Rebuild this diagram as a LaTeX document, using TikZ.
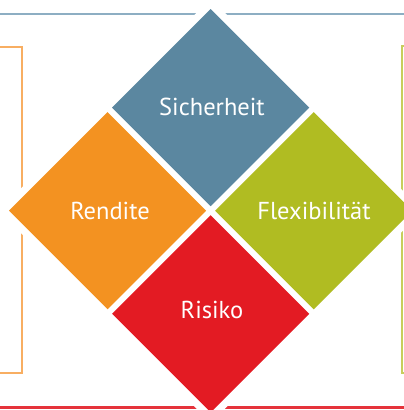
\documentclass[tikz,border=0pt]{standalone}
\usepackage{fontspec}
\setmainfont{PT Sans}
\definecolor{cblue}{HTML}{5B87A0}
\definecolor{corange}{HTML}{F39221}
\definecolor{cgreen}{HTML}{B0BC22}
\definecolor{cred}{HTML}{E31B23}
\definecolor{lblue}{HTML}{8DAEC3}
\definecolor{lorange}{HTML}{F8AE62}
\definecolor{lgreen}{HTML}{C7CE5C}
\definecolor{lred}{HTML}{E5333B}
\tikzset{
  halo/.style={fill=white},
  label text/.style={text=white, font=\fontsize{24.5}{28}\selectfont, inner sep=0pt},
  bracket/.style={line width=2pt},
}
\newcommand\diamondpath[3]{(#1-#3,#2) -- (#1,#2-#3) -- (#1+#3,#2) -- (#1,#2+#3) -- cycle}
\begin{document}
\begin{tikzpicture}[x=1pt,y=-1pt]
\useasboundingbox (0,0) rectangle (404,410);
% brackets and lines
\coordinate (tl) at (-5,13.5);
\coordinate (tr) at (410,13.5);
\draw[bracket, lblue] (tl) -- (tr);
\coordinate (bl) at (-5,407.5);
\coordinate (br) at (410,407.5);
\draw[bracket, lred, line width=3pt] (bl) -- (br);
\coordinate (lt0) at (-5,47);
\coordinate (lt1) at (22,47);
\coordinate (lb1) at (22,373);
\coordinate (lb0) at (-5,373);
\draw[bracket, lorange] (lt0) -- (lt1) -- (lb1) -- (lb0);
\coordinate (rt0) at (410,46);
\coordinate (rt1) at (401.5,46);
\coordinate (rb1) at (401.5,373);
\coordinate (rb0) at (410,373);
\draw[bracket, lgreen] (rt0) -- (rt1) -- (rb1) -- (rb0);
% halos
\fill[halo] \diamondpath{210.7}{107.6}{109};
\fill[halo] \diamondpath{107.6}{210.7}{109};
\fill[halo] \diamondpath{313.8}{210.7}{109};
\fill[halo] \diamondpath{210.7}{313.8}{109};
% diamonds
\fill[cblue] \diamondpath{210.7}{107.6}{98.6};
\fill[corange] \diamondpath{107.6}{210.7}{98.6};
\fill[cgreen] \diamondpath{313.8}{210.7}{98.6};
\fill[cred] \diamondpath{210.7}{313.8}{98.6};
% labels
\node[label text] (sich) at (212,107) {Sicherheit};
\node[label text] (rend) at (110,211) {Rendite};
\node[label text] (flex) at (314,211) {Flexibilität};
\node[label text] (risk) at (212,310) {Risiko};
\end{tikzpicture}
\end{document}
